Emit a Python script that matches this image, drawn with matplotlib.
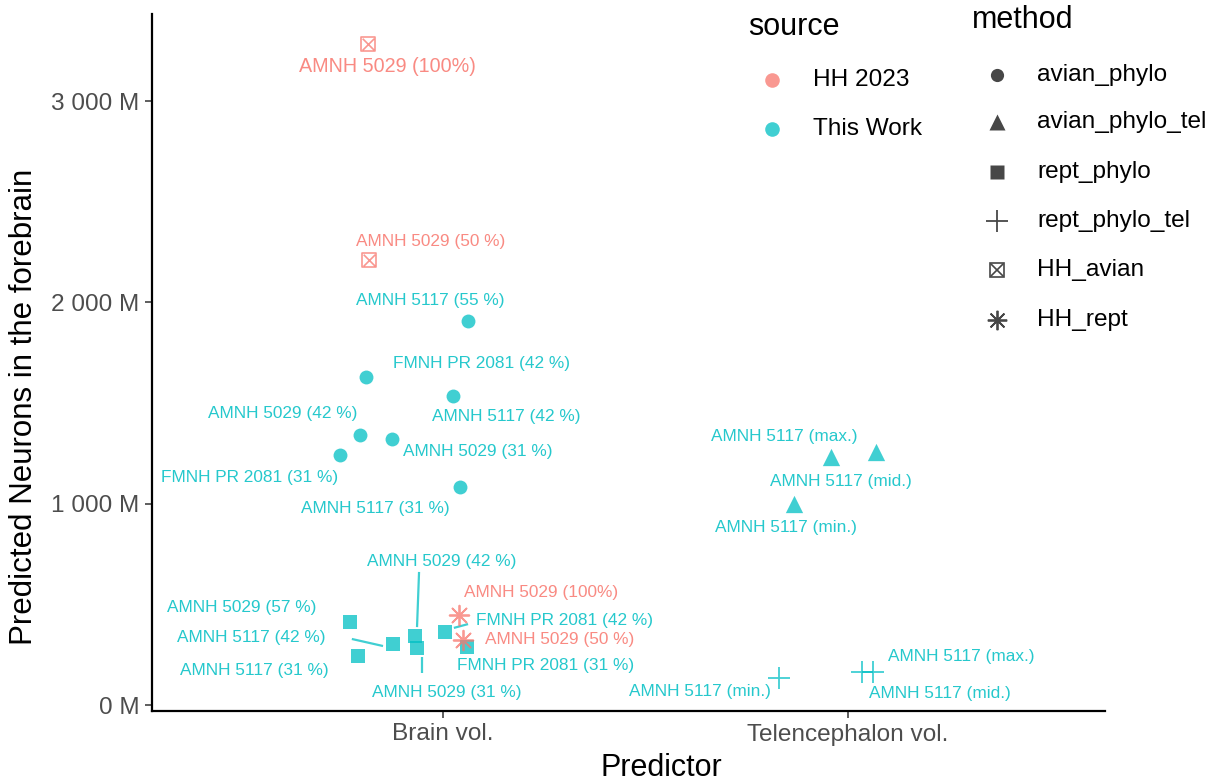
import matplotlib
matplotlib.use("Agg")
import matplotlib.pyplot as plt
from matplotlib.ticker import FuncFormatter, FixedLocator

plt.rcParams['font.family'] = ['Liberation Sans', 'DejaVu Sans']

# ---------------- data ----------------
predictors = ["Brain vol.", "Telencephalon vol."]
sources = ["HH 2023", "This Work"]
methods = ["avian_phylo", "avian_phylo_tel", "rept_phylo", "rept_phylo_tel", "HH_avian", "HH_rept"]

# each group: predictor index (0/1), jitter, values (millions), labels
hh_avian_pred = 0
hh_avian_jit = [-0.185, -0.183]
hh_avian_val = [3284, 2211]
hh_avian_lab = ["AMNH 5029 (100%)", "AMNH 5029 (50 %)"]

hh_rept_pred = 0
hh_rept_jit = [0.040, 0.049]
hh_rept_val = [447, 323]
hh_rept_lab = ["AMNH 5029 (100%)", "AMNH 5029 (50 %)"]

avian_pred = 0
avian_jit = [0.062, -0.190, 0.025, -0.205, -0.126, -0.254, 0.042]
avian_val = [1908, 1629, 1535, 1341, 1321, 1242, 1083]
avian_lab = ["AMNH 5117 (55 %)", "FMNH PR 2081 (42 %)", "AMNH 5117 (42 %)", "AMNH 5029 (42 %)",
             "AMNH 5029 (31 %)", "FMNH PR 2081 (31 %)", "AMNH 5117 (31 %)"]

avian_tel_pred = 1
avian_tel_jit = [0.069, -0.042, -0.133]
avian_tel_val = [1257, 1232, 998]
avian_tel_lab = ["AMNH 5117 (max.)", "AMNH 5117 (mid.)", "AMNH 5117 (min.)"]

rept_pred = 0
rept_jit = [-0.230, -0.210, -0.123, -0.069, -0.064, 0.005, 0.059]
rept_val = [412, 243, 303, 343, 283, 363, 288]
rept_lab = ["AMNH 5029 (57 %)", "AMNH 5117 (31 %)", "AMNH 5117 (42 %)", "AMNH 5029 (42 %)",
            "AMNH 5029 (31 %)", "FMNH PR 2081 (42 %)", "FMNH PR 2081 (31 %)"]

rept_tel_pred = 1
rept_tel_jit = [0.062, 0.035, -0.170]
rept_tel_val = [166, 162, 134]
rept_tel_lab = ["AMNH 5117 (max.)", "AMNH 5117 (mid.)", "AMNH 5117 (min.)"]

y_ticks = [0, 1000, 2000, 3000]

# ---------------- layout (repelled label positions, data coords) ----------------
hh_avian_lxy = [(0.862, 3174), (0.970, 2305)]
hh_rept_lxy = [(1.242, 561), (1.289, 323)]
avian_lxy = [(0.968, 2007), (1.094, 1694), (1.156, 1431), (0.605, 1446),
             (1.086, 1257), (0.523, 1128), (0.832, 974)]
avian_tel_lxy = [(1.844, 1336), (1.983, 1108), (1.847, 884)]
rept_lxy = [(0.504, 482), (0.533, 169), (0.526, 333), (0.998, 715),
            (1.010, 60), (1.299, 422), (1.254, 194)]
rept_tel_lxy = [(2.279, 243), (2.227, 55), (1.635, 65)]
# connector segments (label side -> point side)
rept_segments = [((0.775, 328), (0.852, 293)),
                 ((0.941, 661), (0.936, 387)),
                 ((0.948, 159), (0.948, 238)),
                 ((1.062, 402), (1.027, 383))]

RED = "#F8766D"
CYAN = "#00BFC4"
ALPHA = 0.75
LAB_SIZE = 12.4

fig = plt.figure(figsize=(12.23, 7.82), dpi=100)
ax = fig.add_axes([152/1223, 1 - 711/782, (1105-152)/1223, (711-14)/782])

def xs(pred, jit):
    return [pred + 1 + j for j in jit]

# points
ax.scatter(xs(avian_pred, avian_jit), avian_val, marker='o', s=100, color=CYAN, alpha=ALPHA, linewidths=0, zorder=3)
ax.scatter(xs(avian_tel_pred, avian_tel_jit), avian_tel_val, marker='^', s=155, color=CYAN, alpha=ALPHA, linewidths=0, zorder=3)
ax.scatter(xs(rept_pred, rept_jit), rept_val, marker='s', s=88, color=CYAN, alpha=ALPHA, linewidths=0, zorder=3)
ax.scatter(xs(rept_tel_pred, rept_tel_jit), rept_tel_val, marker='+', s=260, color=CYAN, alpha=ALPHA, linewidths=1.3, zorder=3)
ax.scatter(xs(hh_avian_pred, hh_avian_jit), hh_avian_val, marker='s', s=100, facecolors='none', edgecolors=RED, alpha=ALPHA, linewidths=1.2, zorder=3)
ax.scatter(xs(hh_avian_pred, hh_avian_jit), hh_avian_val, marker='x', s=70, color=RED, alpha=ALPHA, linewidths=1.2, zorder=3)
ax.scatter(xs(hh_rept_pred, hh_rept_jit), hh_rept_val, marker=(8, 2, 0), s=200, color=RED, alpha=ALPHA, linewidths=1.3, zorder=3)

# segments
for (x0, y0), (x1, y1) in rept_segments:
    ax.plot([x0, x1], [y0, y1], color=CYAN, alpha=ALPHA, lw=1.6, zorder=2, solid_capstyle='butt')

def labels(lxy, labs, color, sizes=None):
    for i, ((lx, ly), t) in enumerate(zip(lxy, labs)):
        fs = LAB_SIZE if sizes is None else sizes[i]
        ax.text(lx, ly, t, color=color, alpha=0.85, fontsize=fs, ha='center', va='center', zorder=4)

labels(hh_avian_lxy, hh_avian_lab, RED, sizes=[14.2, LAB_SIZE])
labels(hh_rept_lxy, hh_rept_lab, RED)
labels(avian_lxy, avian_lab, CYAN)
labels(avian_tel_lxy, avian_tel_lab, CYAN)
labels(rept_lxy, rept_lab, CYAN)
labels(rept_tel_lxy, rept_tel_lab, CYAN)

# axes
ax.set_xlim(0.2815, 2.635)
ax.set_ylim(-29.8, 3432.7)
ax.xaxis.set_major_locator(FixedLocator([1, 2]))
ax.set_xticklabels(predictors)
ax.yaxis.set_major_locator(FixedLocator(y_ticks))
ax.yaxis.set_major_formatter(FuncFormatter(lambda v, p: f"{v:,.0f}".replace(",", " ") + " M"))
for side in ['top', 'right']:
    ax.spines[side].set_visible(False)
for side in ['left', 'bottom']:
    ax.spines[side].set_linewidth(1.6)
    ax.spines[side].set_color('black')
ax.tick_params(axis='both', length=5, width=1.1, color='#333333', labelcolor='#4D4D4D', labelsize=17.6, pad=4)
ax.set_xlabel("Predictor", fontsize=22, color='black')
ax.set_ylabel("Predicted Neurons in the forebrain", fontsize=22.5, color='black')
ax.xaxis.set_label_coords((661-152)/(1105-152), -(768-711)/(711-14))
ax.yaxis.set_label_coords(-(152-24)/(1105-152), (711-407)/(711-14))
ax.xaxis.label.set_va('center')
ax.yaxis.label.set_va('center')

# legend overlay (pixel coordinates)
lg = fig.add_axes([0, 0, 1, 1], facecolor='none')
lg.set_xlim(0, 1223)
lg.set_ylim(782, 0)
lg.axis('off')
lg.text(748, 27, "source", fontsize=22, ha='left', va='center')
for yy, c, name in [(80, RED, sources[0]), (129, CYAN, sources[1])]:
    lg.plot([772], [yy], 'o', ms=10.5, color=c, alpha=ALPHA, mec='none')
    lg.text(813, yy, name, fontsize=17.6, ha='left', va='center')
lg.text(972, 20, "method", fontsize=22, ha='left', va='center')
GREY = '#333333'
mys = [75, 122, 172, 221, 270, 320]
mk = [dict(marker='o', ms=9.5, mec='none'), dict(marker='^', ms=12, mec='none'),
      dict(marker='s', ms=9.5, mec='none'), dict(marker='+', ms=16, mew=1.3),
      None, dict(marker=(8, 2, 0), ms=14, mew=1.3)]
for yy, m, name in zip(mys, mk, methods):
    if m is None:
        lg.plot([997], [yy], marker='s', ms=10, mfc='none', mec=GREY, mew=1.2, alpha=0.9)
        lg.plot([997], [yy], marker='x', ms=8.4, mec=GREY, mew=1.2, alpha=0.9)
    else:
        lg.plot([997], [yy], color=GREY, alpha=0.9, **m)
    lg.text(1037, yy, name, fontsize=17.6, ha='left', va='center')

fig.savefig("out.png", dpi=100)
